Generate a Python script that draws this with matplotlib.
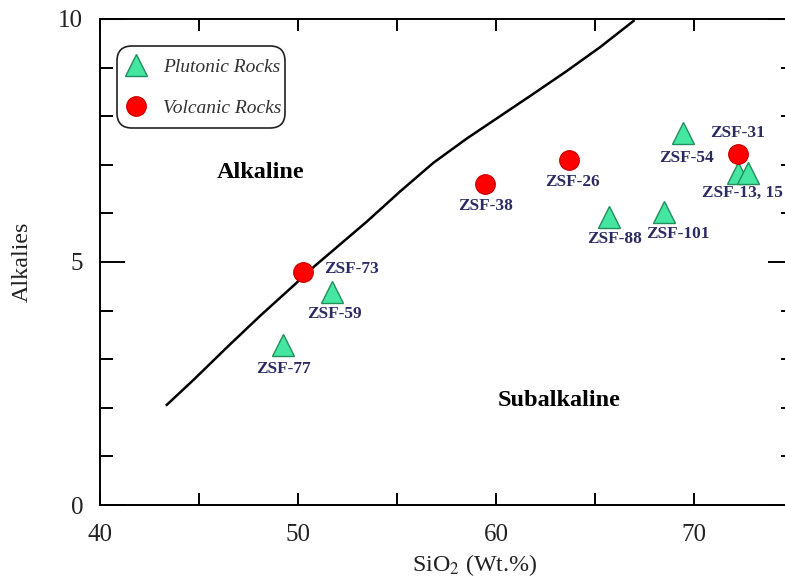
import numpy as np
import matplotlib.pyplot as plt
from matplotlib.ticker import MultipleLocator
from matplotlib.patches import FancyBboxPatch
from matplotlib.transforms import IdentityTransform

plt.rcParams['font.family'] = ['Liberation Serif', 'DejaVu Serif']
plt.rcParams['mathtext.fontset'] = 'stix'

# Irvine & Baragar alkaline / subalkaline boundary
line_x = [43.37, 44.71, 46.40, 48.08, 49.76, 50.85, 53.47, 55.15, 56.83,
          58.52, 60.20, 61.88, 63.57, 65.25, 66.94]
line_y = [2.06, 2.57, 3.24, 3.89, 4.51, 4.92, 5.83, 6.45, 7.04,
          7.54, 8.00, 8.46, 8.93, 9.42, 9.96]

# plutonic samples
plu_x = [49.25, 51.7, 65.7, 68.5, 69.45, 72.2, 72.7]
plu_y = [3.29, 4.38, 5.93, 6.03, 7.65, 6.83, 6.83]

# volcanic samples
vol_x = [50.25, 59.45, 63.7, 72.2]
vol_y = [4.79, 6.6, 7.1, 7.22]

# sample labels: text, anchor point, offset (points)
lab_text = ['ZSF-77', 'ZSF-59', 'ZSF-88', 'ZSF-101', 'ZSF-54', 'ZSF-13, 15',
            'ZSF-73', 'ZSF-38', 'ZSF-26', 'ZSF-31']
lab_x = [49.25, 51.7, 65.7, 68.5, 69.45, 72.45, 50.25, 59.45, 63.7, 72.2]
lab_y = [3.29, 4.38, 5.93, 6.03, 7.65, 6.83, 4.79, 6.6, 7.1, 7.22]
lab_dx = [0, 2, 4, 10, 2, 0, 35, 0, 2, 0]
lab_dy = [-17, -16, -16, -16, -18, -14, 2, -16, -16, 15]

fig = plt.figure(figsize=(7.85, 5.79), dpi=100)
ax = fig.add_axes([0.1274, 0.1278, 0.883, 0.8394])

ax.plot(line_x, line_y, color='black', lw=1.8, zorder=2)

ax.plot(plu_x, plu_y, linestyle='none', marker='^', ms=16, mfc='#45e6a2',
        mec='#1f8f5c', mew=1.0, zorder=3, label='Plutonic Rocks')
ax.plot(vol_x, vol_y, linestyle='none', marker='o', ms=14, mfc='#ff0000',
        mec='#d00000', mew=1.0, zorder=4, label='Volcanic Rocks')

for t, x, y, dx, dy in zip(lab_text, lab_x, lab_y, lab_dx, lab_dy):
    ax.annotate(t, (x, y), xytext=(dx, dy), textcoords='offset points',
                ha='center', va='center', fontsize=12.4, fontweight='bold',
                color='#2b2b62', zorder=5)

ax.text(48.1, 6.85, 'Alkaline', fontsize=17.5, fontweight='bold', ha='center', va='center')
ax.text(63.2, 2.15, 'Subalkaline', fontsize=17.5, fontweight='bold', ha='center', va='center')

ax.set_xlim(40, 75)
ax.set_ylim(0, 10)
ax.xaxis.set_major_locator(MultipleLocator(10))
ax.xaxis.set_minor_locator(MultipleLocator(5))
ax.yaxis.set_major_locator(MultipleLocator(5))
ax.yaxis.set_minor_locator(MultipleLocator(1))
ax.tick_params(which='both', direction='in', top=True, right=True, width=1.4,
               labelsize=18, labelcolor='#222222')
ax.tick_params(axis='x', which='both', length=8.5, pad=14)
ax.tick_params(axis='y', which='major', length=18, pad=12)
ax.tick_params(axis='y', which='minor', length=9)
for s in ax.spines.values():
    s.set_linewidth(1.4)

ax.set_xlabel('SiO$_2$ (Wt.%)', fontsize=17.3, color='#222222')
ax.set_ylabel('Alkalies', fontsize=17.3, color='#222222')
ax.xaxis.set_label_coords(0.541, -0.097)
ax.yaxis.set_label_coords(-0.097, 0.5)

leg = ax.legend(loc='upper left', bbox_to_anchor=(0.038, 0.9185), frameon=False,
                prop={'family': 'Liberation Serif', 'style': 'italic', 'size': 14},
                labelcolor='#333333', handletextpad=0.89, labelspacing=1.2,
                borderpad=0, handlelength=1.0, borderaxespad=0)

# rounded legend frame (pixel units)
box = FancyBboxPatch((117, 579 - 128), 168, 82, boxstyle='round,pad=0,rounding_size=15',
                     transform=IdentityTransform(), facecolor='none',
                     edgecolor='#222222', linewidth=1.2, zorder=6)
fig.add_artist(box)

fig.savefig('out.png', dpi=100)
